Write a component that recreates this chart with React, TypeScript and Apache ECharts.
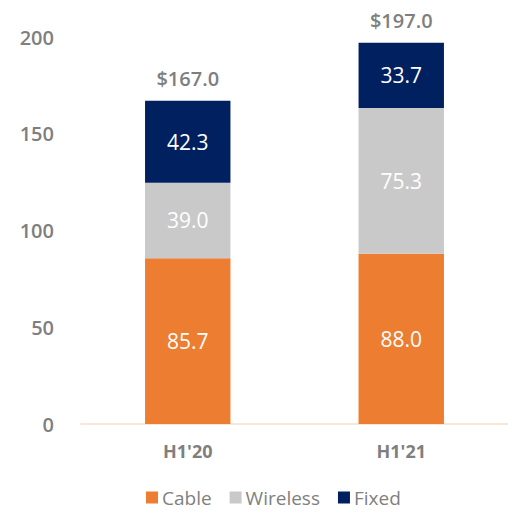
import React, { useEffect, useRef } from "react";
import * as echarts from "echarts";

const categories = ["H1'20", "H1'21"];
const cable = [85.7, 88.0];
const wireless = [39.0, 75.3];
const fixed = [42.3, 33.7];
const totals = [167.0, 197.0];
const yTicks = [0, 50, 100, 150, 200];

export default function App() {
  const ref = useRef<HTMLDivElement>(null);
  useEffect(() => {
    const chart = echarts.init(ref.current!, null, { renderer: "svg" });
    const font = "'Open Sans', 'Noto Sans', sans-serif";
    const inside = {
      show: true,
      position: "inside",
      color: "#ffffff",
      fontSize: 21,
      fontWeight: 500,
      fontFamily: font,
      formatter: (p: any) => Number(p.value).toFixed(1),
    };
    chart.setOption({
      animation: false,
      textStyle: { fontFamily: font },
      grid: { left: 81, right: 0, top: 37, bottom: 88 },
      legend: {
        data: ["Cable", "Wireless", "Fixed"],
        bottom: 0,
        left: 141,
        itemWidth: 12,
        itemHeight: 12,
        itemGap: 18,
        icon: "rect",
        textStyle: { color: "#7f7f7f", fontSize: 19, fontFamily: font, padding: [0, 0, 0, -1] },
      },
      xAxis: {
        type: "category",
        data: categories,
        axisLine: { show: true, lineStyle: { color: "#fbe5d6", width: 2 } },
        axisTick: { show: false },
        axisLabel: { color: "#7f7f7f", fontSize: 18, fontWeight: "bold", margin: 18, fontFamily: font },
      },
      yAxis: {
        type: "value",
        min: yTicks[0],
        max: yTicks[yTicks.length - 1],
        interval: 50,
        splitLine: { show: false },
        axisLine: { show: false },
        axisTick: { show: false },
        axisLabel: { color: "#7f7f7f", fontSize: 20, fontWeight: 600, margin: 27, fontFamily: font },
      },
      series: [
        {
          name: "Cable",
          type: "bar",
          stack: "s",
          data: cable,
          barWidth: "40%",
          itemStyle: { color: "#ED7D31" },
          label: inside,
        },
        {
          name: "Wireless",
          type: "bar",
          stack: "s",
          data: wireless,
          itemStyle: { color: "#C9C9C9" },
          label: inside,
        },
        {
          name: "Fixed",
          type: "bar",
          stack: "s",
          data: fixed,
          itemStyle: { color: "#002060" },
          label: inside,
        },
        {
          name: "Total",
          type: "bar",
          data: totals,
          barGap: "-100%",
          barWidth: "40%",
          itemStyle: { color: "transparent" },
          silent: true,
          z: 10,
          label: {
            show: true,
            position: "top",
            distance: 12,
            color: "#7f7f7f",
            fontSize: 20,
            fontWeight: 600,
            fontFamily: font,
            formatter: (p: any) => "$" + Number(p.value).toFixed(1),
          },
        },
      ],
    });
    return () => chart.dispose();
  }, []);
  return <div ref={ref} style={{ width: 508, height: 512, position: "absolute", left: 0, top: 0 }} />;
}
